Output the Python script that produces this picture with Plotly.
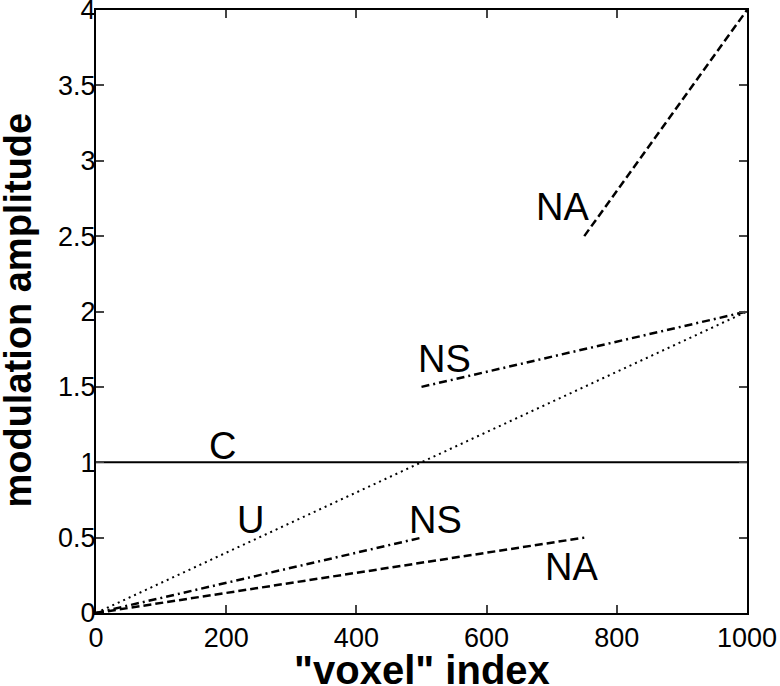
import plotly.graph_objects as go

# line data: x = "voxel" index, y = modulation amplitude
c_x = [0, 1000]
c_y = [1, 1]

u_x = [0, 1000]
u_y = [0, 2]

ns_low_x = [0, 500]
ns_low_y = [0, 0.5]
ns_high_x = [500, 1000]
ns_high_y = [1.5, 2]

na_low_x = [0, 750]
na_low_y = [0, 0.5]
na_high_x = [750, 1000]
na_high_y = [2.5, 4]

x_ticks = [0, 200, 400, 600, 800, 1000]
y_ticks = [0, 0.5, 1, 1.5, 2, 2.5, 3, 3.5, 4]
y_tick_text = ["0", "0.5", "1", "1.5", "2", "2.5", "3", "3.5", "4"]

FONT = "Liberation Sans, Arial"

fig = go.Figure()

fig.add_trace(go.Scatter(x=c_x, y=c_y, mode="lines", line=dict(color="black", width=2)))
fig.add_trace(go.Scatter(x=u_x, y=u_y, mode="lines", line=dict(color="black", width=2, dash="2px,4px")))
dashdot = "8px,4px,2px,4px"
fig.add_trace(go.Scatter(x=ns_low_x, y=ns_low_y, mode="lines",
                         line=dict(color="black", width=2.5, dash=dashdot)))
fig.add_trace(go.Scatter(x=ns_high_x, y=ns_high_y, mode="lines",
                         line=dict(color="black", width=2.5, dash=dashdot)))
fig.add_trace(go.Scatter(x=na_low_x, y=na_low_y, mode="lines",
                         line=dict(color="black", width=2.5, dash="8px,4px")))
fig.add_trace(go.Scatter(x=na_high_x, y=na_high_y, mode="lines",
                         line=dict(color="black", width=2.5, dash="8px,4px")))

# curve labels
labels = [("C", 195, 1.11), ("U", 238, 0.617), ("NS", 536, 1.685), ("NS", 522, 0.62),
          ("NA", 717, 2.69), ("NA", 730, 0.305)]
for txt, lx, ly in labels:
    fig.add_annotation(x=lx, y=ly, text=txt, showarrow=False,
                       font=dict(family=FONT, size=38, color="black"))

# axis titles placed by hand (paper coords)
fig.add_annotation(xref="paper", yref="paper", x=0.5, y=-0.095, yanchor="middle",
                   text='"voxel" index', showarrow=False,
                   font=dict(family=FONT, size=40, color="black", weight="bold"))
fig.add_annotation(xref="paper", yref="paper", x=-0.12, y=0.503, xanchor="center",
                   text="modulation amplitude", textangle=-90, showarrow=False,
                   font=dict(family=FONT, size=38, color="black", weight="bold"))

fig.update_layout(
    width=780, height=686,
    margin=dict(l=96, r=33, t=10, b=73),
    plot_bgcolor="white", paper_bgcolor="white",
    showlegend=False,
    font=dict(family=FONT, color="black"),
)
fig.update_xaxes(
    range=[0, 1000], tickvals=x_ticks, ticks="inside", ticklen=8, tickwidth=1.5,
    showgrid=False, zeroline=False, showline=True, linecolor="black", linewidth=2,
    mirror="ticks", tickfont=dict(size=27, family=FONT), ticklabeloverflow="allow",
    automargin=False,
)
fig.update_yaxes(
    range=[0, 4], tickvals=y_ticks, ticktext=y_tick_text, ticks="inside", ticklen=8, tickwidth=1.5,
    showgrid=False, zeroline=False, showline=True, linecolor="black", linewidth=2,
    mirror="ticks", tickfont=dict(size=27, family=FONT), ticklabeloverflow="allow",
    ticklabelstandoff=-7, automargin=False,
)

# drop the default 8px body margin so the figure sits at the window's corner
fig.write_html("out.html", config={"displayModeBar": False},
               post_script="document.body.style.margin='0';")
